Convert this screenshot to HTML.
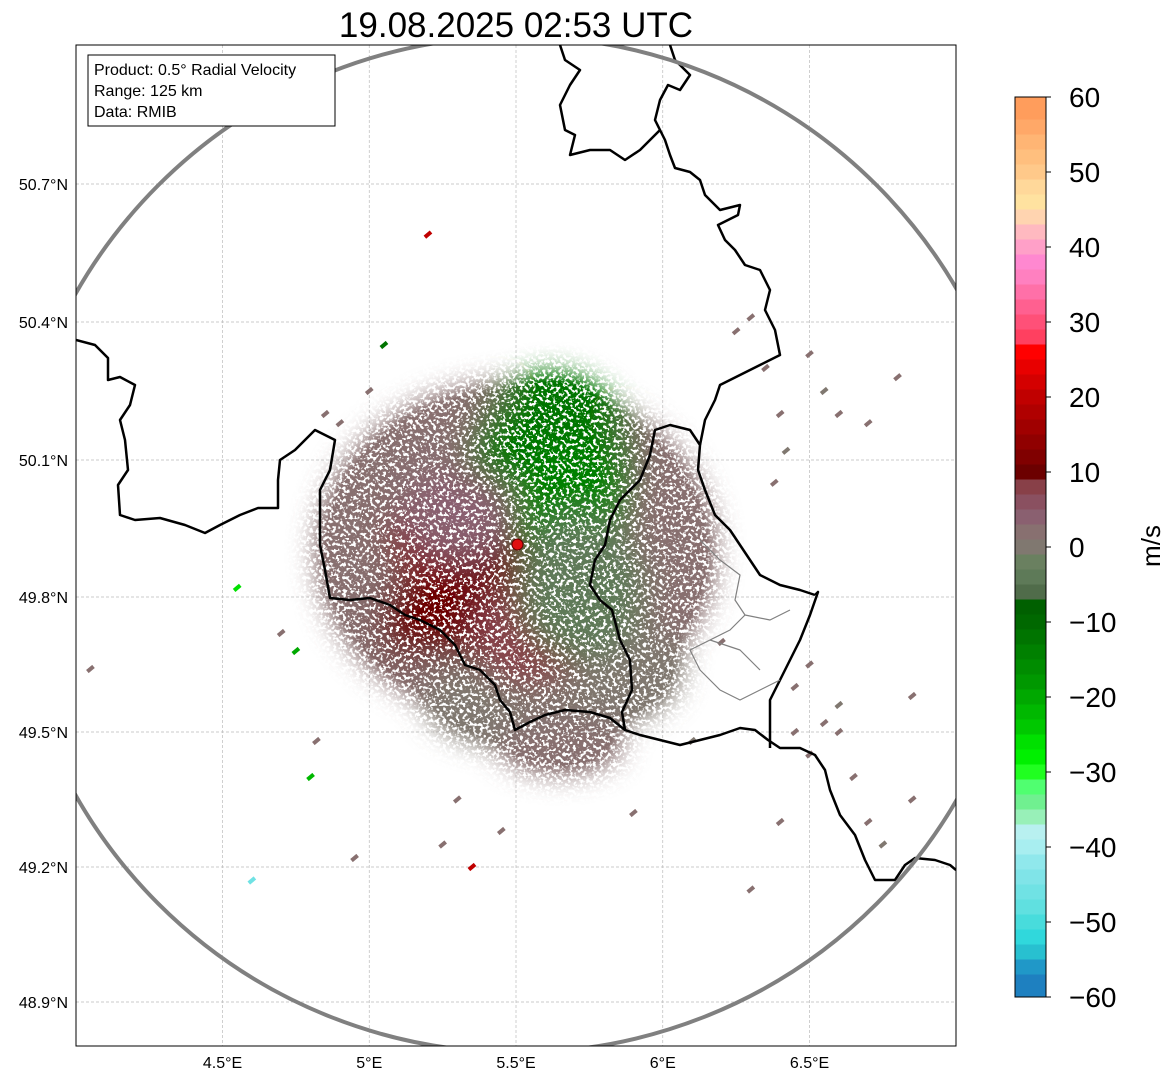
<!DOCTYPE html>
<html><head><meta charset="utf-8">
<style>
html,body{margin:0;padding:0;background:#fff;}
svg{display:block;font-family:"Liberation Sans","DejaVu Sans",sans-serif;}
</style></head>
<body>
<svg id="chart" width="1171" height="1081" viewBox="0 0 1171 1081">
<defs>
<clipPath id="axclip"><rect x="76" y="45" width="880" height="1001"/></clipPath>
<filter id="speck" filterUnits="userSpaceOnUse" x="76" y="45" width="880" height="1001">
<feTurbulence type="fractalNoise" baseFrequency="0.3" numOctaves="2" seed="7" result="t"/>
<feColorMatrix in="t" type="matrix" values="0 0 0 0 0  0 0 0 0 0  0 0 0 0 0  8 0 0 0 -3.1" result="m"/>
<feComposite in="SourceGraphic" in2="m" operator="in" result="c"/>
<feComponentTransfer in="c"><feFuncA type="linear" slope="1.8"/></feComponentTransfer>
</filter>
<filter id="soft"><feGaussianBlur stdDeviation="16"/></filter>
</defs>
<text x="516" y="37" font-size="35" text-anchor="middle">19.08.2025 02:53 UTC</text>
<g id="grid"></g>
<g clip-path="url(#axclip)">
<g id="echoes" filter="url(#speck)"></g>
<g id="scatter"></g>
<g id="borders"></g>
<circle id="rangeRing" fill="none" stroke="#808080" stroke-width="4"/>
</g>
<circle id="site" r="5.5" fill="#e01010" stroke="#600" stroke-width="1"/>
<rect x="76" y="45" width="880" height="1001" fill="none" stroke="#000" stroke-width="1"/>
<g id="ticks"></g>
<g>
<rect x="88" y="55" width="247" height="71" fill="#fff" stroke="#000" stroke-width="1"/>
<text x="94" y="75" font-size="16">Product: 0.5° Radial Velocity</text>
<text x="94" y="96" font-size="16">Range: 125 km</text>
<text x="94" y="117" font-size="16">Data: RMIB</text>
</g>
<g id="cbar"></g>
<text transform="translate(1160,546) rotate(-90)" font-size="26" text-anchor="middle">m/s</text>
</svg>
<script>
const lonTicks=[4.5,5,5.5,6,6.5];
const lonLabels=["4.5°E","5°E","5.5°E","6°E","6.5°E"];
const latTicks=[50.7,50.4,50.1,49.8,49.5,49.2,48.9];
const latLabels=["50.7°N","50.4°N","50.1°N","49.8°N","49.5°N","49.2°N","48.9°N"];
const latPix=[184,322,460,597,732,867,1002];
const cbTicks=[60,50,40,30,20,10,0,-10,-20,-30,-40,-50,-60];
const cbValues=[60,57,55,53,51,49,47,45,43,41,39,37,35,33,31,29,27,25,23,21,19,17,15,13,11,9,7,5,3,1,-1,-3,-5,-7,-9,-11,-13,-15,-17,-19,-21,-23,-25,-27,-29,-31,-33,-35,-37,-39,-41,-43,-45,-47,-49,-51,-53,-55,-57,-60];
const cbColors=["#ff9d5c","#ffa868","#ffb574","#ffbf7e","#ffc98a","#ffd89a","#ffe2a0","#ffd4b0","#ffb9c0","#ffa0c8","#ff88d0","#ff80c0","#ff70a8","#ff6090","#ff5078","#ff4060","#ff0000","#e80000","#d40000","#c00000","#b00000","#a00000","#900000","#800000","#6c0000","#884048","#8a5060","#8a6070","#887070","#807870","#6a8060","#5e7a58","#506c4a","#006000","#006800","#007400","#008000","#008c00","#009800","#00a800","#00b800","#00c800","#00e000","#00f000","#20ff20","#50ff70","#70f090","#98f0b8","#b8f0f0","#a8eef0","#90e8ec","#80e4e8","#70e2e4","#60e0e0","#48dcdc","#30d8dc","#28c0d0","#2098c8","#1e80c0","#1e80c0"];
// echo regions: lon, lat, radius-x (deg lon), radius-y (deg lat), velocity (m/s)
const echoLon=[5.5,5.55,5.62,5.38,5.2,5.68,5.8,5.5,5.55,5.3,5.72,5.15,5.65];
const echoLat=[49.9,49.6,50.08,49.8,49.93,50.0,49.65,49.58,49.72,49.98,49.82,49.75,49.48];
const echoRx=[0.66,0.35,0.28,0.22,0.14,0.2,0.25,0.3,0.2,0.2,0.22,0.12,0.2];
const echoRy=[0.36,0.12,0.2,0.16,0.1,0.15,0.12,0.1,0.12,0.1,0.16,0.09,0.06];
const echoVel=[2,2,-12,11,12,-14,0,1,9,4,-3,10,2];
// scattered small echoes: lon, lat, velocity
const ptLon=[6.25,6.3,6.35,6.4,6.42,6.38,6.5,6.55,6.6,6.7,6.8,6.85,6.6,6.55,6.45,6.5,6.65,6.7,6.75,6.4,6.3,6.1,5.2,4.85,4.9,5.0,5.1,5.05,4.55,4.7,4.75,4.8,4.82,5.3,5.9,6.45,6.5,6.2,6.85,6.6,5.35,5.45,5.25,4.95,4.6,4.05];
const ptLat=[50.38,50.41,50.3,50.2,50.12,50.05,50.33,50.25,50.2,50.18,50.28,49.58,49.56,49.52,49.5,49.45,49.4,49.3,49.25,49.3,49.15,49.48,50.59,50.2,50.18,50.25,50.15,50.35,49.82,49.72,49.68,49.4,49.48,49.35,49.32,49.6,49.65,49.7,49.35,49.5,49.2,49.28,49.25,49.22,49.17,49.64];
const ptVel=[2,3,2,2,1,2,3,1,2,2,2,2,1,3,2,2,2,2,1,2,2,1,20,2,3,2,2,-12,-25,2,-20,-22,2,2,2,2,2,2,2,2,20,2,2,3,-45,2];
</script>
<script>
const NS="http://www.w3.org/2000/svg";
function xOf(lon){return 516+(lon-5.5)*293.5;}
function yOf(lat){
  for(let i=0;i<latTicks.length-1;i++){
    const a=latTicks[i],b=latTicks[i+1];
    if((lat<=a&&lat>=b)||i===latTicks.length-2||(i===0&&lat>a)){
      return latPix[i]+(lat-a)/(b-a)*(latPix[i+1]-latPix[i]);
    }
  }
}
function cbY(v){return 997-(v+60)*7.5;}
function colorOf(v){
  let best=0,bd=1e9;
  for(let i=0;i<cbValues.length;i++){const d=Math.abs(cbValues[i]-v);if(d<bd){bd=d;best=i;}}
  return cbColors[best];
}
function mk(tag,attrs,parent){const e=document.createElementNS(NS,tag);for(const k in attrs)e.setAttribute(k,attrs[k]);parent.appendChild(e);return e;}
const grid=document.getElementById('grid'),ticks=document.getElementById('ticks');
lonTicks.forEach((lon,i)=>{
  const x=xOf(lon);
  const l=mk('line',{x1:x,x2:x,y1:45,y2:1046,stroke:'#bbb','stroke-width':0.7,'stroke-dasharray':'3,2'},grid);
  
  
  const t=mk('text',{x:x,y:1068,'font-size':16,'text-anchor':'middle'},ticks);
  t.textContent=lonLabels[i];
  
  
});
latTicks.forEach((lat,i)=>{
  const y=yOf(lat);
  const l=mk('line',{x1:76,x2:956,y1:y,y2:y,stroke:'#bbb','stroke-width':0.7,'stroke-dasharray':'3,2'},grid);
  
  
  const t=mk('text',{x:68,y:y+6,'font-size':16,'text-anchor':'end'},ticks);
  t.textContent=latLabels[i];
  
  
});
const eg=document.getElementById('echoes');
const soft=mk('g',{filter:'url(#soft)'},eg);
echoLon.forEach((lon,i)=>{
  const cx=xOf(echoLon[i]),cy=yOf(echoLat[i]);
  const rx=echoRx[i]*293.5,ry=echoRy[i]*454;
  const e=mk('ellipse',{cx:cx,cy:cy,rx:rx,ry:ry,fill:colorOf(echoVel[i])},soft);
  
  
});
const sg=document.getElementById('scatter');
ptLon.forEach((lon,i)=>{
  const r=mk('rect',{x:xOf(lon)-4,y:yOf(ptLat[i])-2,width:8,height:4,fill:colorOf(ptVel[i]),transform:'rotate(-40 '+xOf(lon)+' '+yOf(ptLat[i])+')'},sg);
  
  
});
const bg=document.getElementById('borders');
const paths=[
 ["M76,340 L95,345 108,358 108,380 120,377 135,385 130,405 120,420 125,440 128,470 118,485 120,515 135,520 160,518 185,525 205,533 220,525 240,515 258,508 278,508 278,480 280,460 295,450 315,430 335,440 330,470 320,490 320,545 325,570 330,598 350,600 370,598 390,605 405,615 420,620 440,630 455,645 465,665 480,670 495,685 500,700 510,712 515,730 530,722 545,715 565,710 590,712 610,718 625,730 640,735 660,740 680,745 700,740 720,735 740,728 755,730 768,740 780,748 800,748 815,755 825,770 830,790 840,815 855,835 865,860 875,880 895,880 905,865 915,858 935,860 950,865 956,870",'#000',2.5],
 ["M625,730 L622,712 632,690 630,660 620,640 612,610 600,600 590,585 595,560 605,545 610,520 620,500 640,480 650,455 655,430 670,425 690,430 700,445 698,470 705,490 715,515 730,530 740,545 750,560 760,575 780,585 800,590 815,595",'#000',2.5],
 ["M815,595 L818,592 810,615 800,640 790,660 780,680 770,700 770,748",'#000',2.5],
 ["M700,445 L705,420 715,400 720,385 740,375 760,365 780,355 775,330 765,310 770,290 760,270 745,265 735,250 725,240 718,225 738,215 740,205 720,210 705,195 700,180 690,172 675,168 670,155 665,140 660,130 655,120 660,100 668,85 680,90 690,75 675,60 670,45",'#000',2.5],
 ["M560,45 L565,60 580,70 570,85 560,105 565,130 575,135 570,155 590,150 610,150 625,160 640,150 660,130",'#000',2.5],
 ["M700,540 L720,560 740,575 735,600 745,615 730,630 710,640 690,650 700,670 720,690 740,700 760,690 780,680 M745,615 L770,620 790,610 M710,640 L740,650 760,670",'#808080',1.2]
];
paths.forEach(p=>{
  const e=mk('path',{d:p[0],fill:'none',stroke:p[1],'stroke-width':p[2],'stroke-linejoin':'round'},bg);
  
  
});
const ring=document.getElementById('rangeRing');
ring.setAttribute('cx',xOf(5.505));ring.setAttribute('cy',yOf(49.915));ring.setAttribute('r',508);
const site=document.getElementById('site');
site.setAttribute('cx',xOf(5.505));site.setAttribute('cy',yOf(49.915));
const cb=document.getElementById('cbar');
for(let i=0;i<cbValues.length-1;i++){
  const y1=cbY(cbValues[i]),y2=cbY(cbValues[i+1]);
  const r=mk('rect',{x:1015,y:y1,width:31,height:y2-y1+0.5,fill:cbColors[i]},cb);
  
  
}
mk('rect',{x:1015,y:cbY(60),width:31,height:cbY(-60)-cbY(60),fill:'none',stroke:'#000','stroke-width':1},cb);
cbTicks.forEach(v=>{
  const y=cbY(v);
  mk('line',{x1:1046,x2:1051,y1:y,y2:y,stroke:'#000'},cb);
  const t=mk('text',{x:1069,y:y+10,'font-size':28},cb);
  t.textContent=(v<0?'\u2212'+(-v):String(v));
  
  
});
</script>
</body></html>
